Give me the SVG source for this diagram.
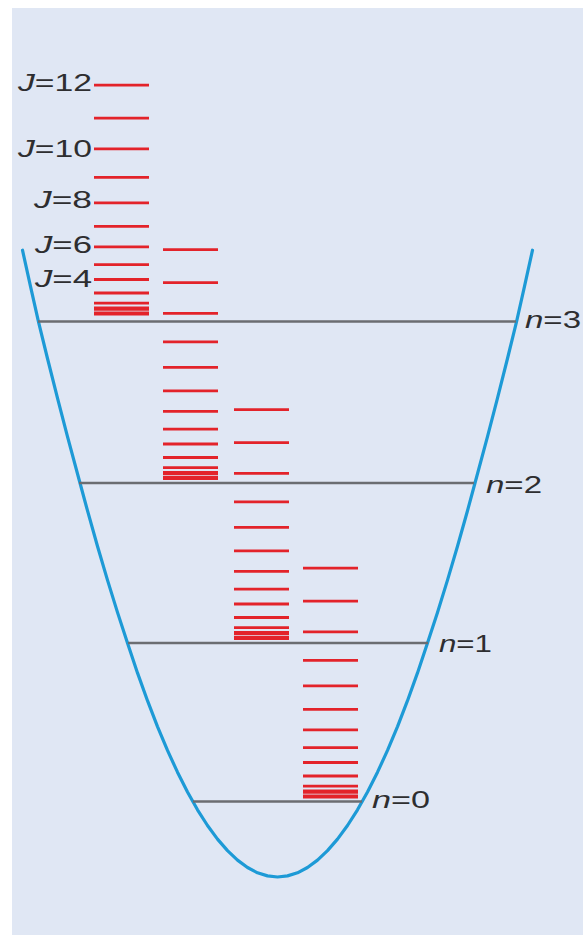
<svg xmlns="http://www.w3.org/2000/svg" xmlns:xlink="http://www.w3.org/1999/xlink" width="583" height="935" viewBox="0 0 583 935">
<style>
.bg{fill:#e0e7f4}
.well{fill:none;stroke:#1d9ad6;stroke-width:3.2;stroke-linejoin:round;stroke-linecap:round}
.vib{stroke:#6b6d71;stroke-width:2.6}
.rot{stroke:#e3232a;stroke-width:2.8}
.rot0{stroke:#e3232a;stroke-width:4.2}
.lbl{font-family:"Liberation Sans",Arial,sans-serif;font-size:23px;fill:#2e2e30}
.it{font-style:italic}
</style>
<defs>
<g id="rotStack">
<line class="rot" x1="0" x2="55" y1="-233.3" y2="-233.3"/>
<line class="rot" x1="0" x2="55" y1="-200.3" y2="-200.3"/>
<line class="rot" x1="0" x2="55" y1="-169.7" y2="-169.7"/>
<line class="rot" x1="0" x2="55" y1="-141.1" y2="-141.1"/>
<line class="rot" x1="0" x2="55" y1="-115.7" y2="-115.7"/>
<line class="rot" x1="0" x2="55" y1="-92.2" y2="-92.2"/>
<line class="rot" x1="0" x2="55" y1="-71.6" y2="-71.6"/>
<line class="rot" x1="0" x2="55" y1="-53.8" y2="-53.8"/>
<line class="rot" x1="0" x2="55" y1="-39" y2="-39"/>
<line class="rot" x1="0" x2="55" y1="-25.5" y2="-25.5"/>
<line class="rot" x1="0" x2="55" y1="-15.3" y2="-15.3"/>
<line class="rot0" x1="0" x2="55" y1="-9.8" y2="-9.8"/>
<line class="rot0" x1="0" x2="55" y1="-5" y2="-5"/>
</g>
</defs>
<rect class="bg" x="12" y="8" width="571" height="927"/>
<g id="connectors">
<polyline id="potential-well" class="well" points="22.5,250.2 30.5,286.4 38.5,321.8 47.5,358.5 57.5,398.1 67.5,436.7 80,483 87.5,510.7 97.5,546.2 107.5,580.1 117.5,612.4 127.5,643 137.5,672.9 147.5,700.7 157.5,726.6 167.5,750.4 177.5,772.2 187.5,792 197.5,809.8 207.5,825.5 217.5,839.1 227.5,850.6 237.5,860.1 247.5,867.5 257.5,872.8 267.5,875.9 277.5,877 287.5,875.9 297.5,872.8 307.5,867.5 317.5,860.1 327.5,850.6 337.5,839.1 347.5,825.5 357.5,809.8 367.5,792 377.5,772.2 387.5,750.4 397.5,726.6 407.5,700.7 417.5,672.9 427.5,643 437.5,612.4 447.5,580.1 457.5,546.2 467.5,510.7 475,483 487.5,436.7 497.5,398.1 507.5,358.5 516.5,321.8 524.5,286.4 532.5,250.2"/>
</g>
<g id="level-n3">
<line class="vib" x1="38" x2="516" y1="321.5" y2="321.5"/>
<use xlink:href="#rotStack" href="#rotStack" x="94" y="318.5"/>
<text class="lbl" x="525" y="328" textLength="56" lengthAdjust="spacingAndGlyphs"><tspan class="it">n</tspan>=3</text>
</g>
<g id="level-n2">
<line class="vib" x1="79" x2="474" y1="483" y2="483"/>
<use xlink:href="#rotStack" href="#rotStack" x="163" y="483"/>
<text class="lbl" x="486" y="493" textLength="56" lengthAdjust="spacingAndGlyphs"><tspan class="it">n</tspan>=2</text>
</g>
<g id="level-n1">
<line class="vib" x1="128" x2="428" y1="643" y2="643"/>
<use xlink:href="#rotStack" href="#rotStack" x="234" y="643"/>
<text class="lbl" x="439" y="652" textLength="53" lengthAdjust="spacingAndGlyphs"><tspan class="it">n</tspan>=1</text>
</g>
<g id="level-n0">
<line class="vib" x1="193" x2="362" y1="801.5" y2="801.5"/>
<use xlink:href="#rotStack" href="#rotStack" x="303" y="801.5"/>
<text class="lbl" x="372" y="808" textLength="58" lengthAdjust="spacingAndGlyphs"><tspan class="it">n</tspan>=0</text>
</g>
<g id="j-labels">
<text class="lbl" x="18" y="91" textLength="74" lengthAdjust="spacingAndGlyphs"><tspan class="it">J</tspan>=12</text>
<text class="lbl" x="18" y="157" textLength="74" lengthAdjust="spacingAndGlyphs"><tspan class="it">J</tspan>=10</text>
<text class="lbl" x="34" y="208" textLength="58" lengthAdjust="spacingAndGlyphs"><tspan class="it">J</tspan>=8</text>
<text class="lbl" x="35" y="253" textLength="57" lengthAdjust="spacingAndGlyphs"><tspan class="it">J</tspan>=6</text>
<text class="lbl" x="35" y="287" textLength="57" lengthAdjust="spacingAndGlyphs"><tspan class="it">J</tspan>=4</text>
</g>
</svg>
